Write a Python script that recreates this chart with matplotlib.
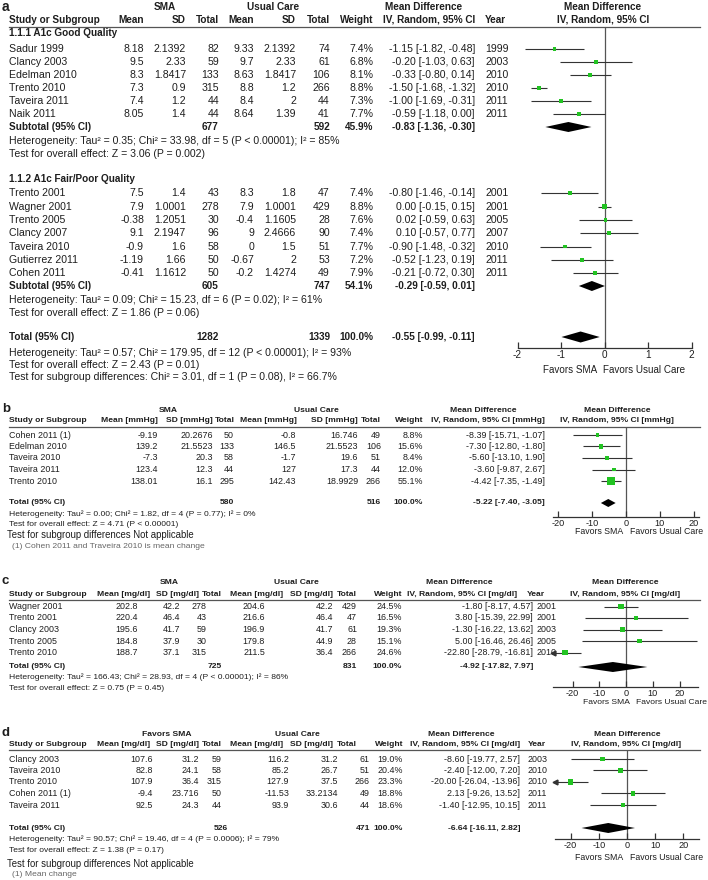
import numpy as np
import matplotlib
matplotlib.use('Agg')
import matplotlib.pyplot as plt

plt.rcParams['font.family'] = ['Liberation Sans', 'DejaVu Sans']

# ---------------- panel a : HbA1c ----------------
a1_study = ['Sadur 1999', 'Clancy 2003', 'Edelman 2010', 'Trento 2010', 'Taveira 2011', 'Naik 2011']
a1_sma_mean = [8.18, 9.5, 8.3, 7.3, 7.4, 8.05]
a1_sma_sd = [2.1392, 2.33, 1.8417, 0.9, 1.2, 1.4]
a1_sma_n = [82, 59, 133, 315, 44, 44]
a1_uc_mean = [9.33, 9.7, 8.63, 8.8, 8.4, 8.64]
a1_uc_sd = [2.1392, 2.33, 1.8417, 1.2, 2, 1.39]
a1_uc_n = [74, 61, 106, 266, 44, 41]
a1_weight = [7.4, 6.8, 8.1, 8.8, 7.3, 7.7]
a1_md = [-1.15, -0.20, -0.33, -1.50, -1.00, -0.59]
a1_lo = [-1.82, -1.03, -0.80, -1.68, -1.69, -1.18]
a1_hi = [-0.48, 0.63, 0.14, -1.32, -0.31, 0.00]
a1_year = [1999, 2003, 2010, 2010, 2011, 2011]
a1_sub = [677, 592, 45.9, -0.83, -1.36, -0.30]

a2_study = ['Trento 2001', 'Wagner 2001', 'Trento 2005', 'Clancy 2007', 'Taveira 2010', 'Gutierrez 2011', 'Cohen 2011']
a2_sma_mean = [7.5, 7.9, -0.38, 9.1, -0.9, -1.19, -0.41]
a2_sma_sd = [1.4, 1.0001, 1.2051, 2.1947, 1.6, 1.66, 1.1612]
a2_sma_n = [43, 278, 30, 96, 58, 50, 50]
a2_uc_mean = [8.3, 7.9, -0.4, 9, 0, -0.67, -0.2]
a2_uc_sd = [1.8, 1.0001, 1.1605, 2.4666, 1.5, 2, 1.4274]
a2_uc_n = [47, 429, 28, 90, 51, 53, 49]
a2_weight = [7.4, 8.8, 7.6, 7.4, 7.7, 7.2, 7.9]
a2_md = [-0.80, 0.00, 0.02, 0.10, -0.90, -0.52, -0.21]
a2_lo = [-1.46, -0.15, -0.59, -0.57, -1.48, -1.23, -0.72]
a2_hi = [-0.14, 0.15, 0.63, 0.77, -0.32, 0.19, 0.30]
a2_year = [2001, 2001, 2005, 2007, 2010, 2011, 2011]
a2_sub = [605, 747, 54.1, -0.29, -0.59, 0.01]
a_total = [1282, 1339, 100.0, -0.55, -0.99, -0.11]

a1_notes = ['Heterogeneity: Tau\u00b2 = 0.35; Chi\u00b2 = 33.98, df = 5 (P < 0.00001); I\u00b2 = 85%',
            'Test for overall effect: Z = 3.06 (P = 0.002)']
a2_notes = ['Heterogeneity: Tau\u00b2 = 0.09; Chi\u00b2 = 15.23, df = 6 (P = 0.02); I\u00b2 = 61%',
            'Test for overall effect: Z = 1.86 (P = 0.06)']
a_notes = ['Heterogeneity: Tau\u00b2 = 0.57; Chi\u00b2 = 179.95, df = 12 (P < 0.00001); I\u00b2 = 93%',
           'Test for overall effect: Z = 2.43 (P = 0.01)',
           'Test for subgroup differences: Chi\u00b2 = 3.01, df = 1 (P = 0.08), I\u00b2 = 66.7%']

# ---------------- panel b : blood pressure ----------------
b_study = ['Cohen 2011 (1)', 'Edelman 2010', 'Taveira 2010', 'Taveira 2011', 'Trento 2010']
b_sma_mean = [-9.19, 139.2, -7.3, 123.4, 138.01]
b_sma_sd = [20.2676, 21.5523, 20.3, 12.3, 16.1]
b_sma_n = [50, 133, 58, 44, 295]
b_uc_mean = [-0.8, 146.5, -1.7, 127, 142.43]
b_uc_sd = [16.746, 21.5523, 19.6, 17.3, 18.9929]
b_uc_n = [49, 106, 51, 44, 266]
b_weight = [8.8, 15.6, 8.4, 12.0, 55.1]
b_md = [-8.39, -7.30, -5.60, -3.60, -4.42]
b_lo = [-15.71, -12.80, -13.10, -9.87, -7.35]
b_hi = [-1.07, -1.80, 1.90, 2.67, -1.49]
b_total = [580, 516, 100.0, -5.22, -7.40, -3.05]
b_notes = ['Heterogeneity: Tau\u00b2 = 0.00; Chi\u00b2 = 1.82, df = 4 (P = 0.77); I\u00b2 = 0%',
           'Test for overall effect: Z = 4.71 (P < 0.00001)']
b_foot = '(1) Cohen 2011 and Traveira 2010 is mean change'

# ---------------- panel c : cholesterol ----------------
c_study = ['Wagner 2001', 'Trento 2001', 'Clancy 2003', 'Trento 2005', 'Trento 2010']
c_sma_mean = [202.8, 220.4, 195.6, 184.8, 188.7]
c_sma_sd = [42.2, 46.4, 41.7, 37.9, 37.1]
c_sma_n = [278, 43, 59, 30, 315]
c_uc_mean = [204.6, 216.6, 196.9, 179.8, 211.5]
c_uc_sd = [42.2, 46.4, 41.7, 44.9, 36.4]
c_uc_n = [429, 47, 61, 28, 266]
c_weight = [24.5, 16.5, 19.3, 15.1, 24.6]
c_md = [-1.80, 3.80, -1.30, 5.00, -22.80]
c_lo = [-8.17, -15.39, -16.22, -16.46, -28.79]
c_hi = [4.57, 22.99, 13.62, 26.46, -16.81]
c_year = [2001, 2001, 2003, 2005, 2010]
c_total = [725, 831, 100.0, -4.92, -17.82, 7.97]
c_notes = ['Heterogeneity: Tau\u00b2 = 166.43; Chi\u00b2 = 28.93, df = 4 (P < 0.00001); I\u00b2 = 86%',
           'Test for overall effect: Z = 0.75 (P = 0.45)']

# ---------------- panel d : LDL ----------------
d_study = ['Clancy 2003', 'Taveira 2010', 'Trento 2010', 'Cohen 2011 (1)', 'Taveira 2011']
d_sma_mean = [107.6, 82.8, 107.9, -9.4, 92.5]
d_sma_sd = [31.2, 24.1, 36.4, 23.716, 24.3]
d_sma_n = [59, 58, 315, 50, 44]
d_uc_mean = [116.2, 85.2, 127.9, -11.53, 93.9]
d_uc_sd = [31.2, 26.7, 37.5, 33.2134, 30.6]
d_uc_n = [61, 51, 266, 49, 44]
d_weight = [19.0, 20.4, 23.3, 18.8, 18.6]
d_md = [-8.60, -2.40, -20.00, 2.13, -1.40]
d_lo = [-19.77, -12.00, -26.04, -9.26, -12.95]
d_hi = [2.57, 7.20, -13.96, 13.52, 10.15]
d_year = [2003, 2010, 2010, 2011, 2011]
d_total = [526, 471, 100.0, -6.64, -16.11, 2.82]
d_notes = ['Heterogeneity: Tau\u00b2 = 90.57; Chi\u00b2 = 19.46, df = 4 (P = 0.0006); I\u00b2 = 79%',
           'Test for overall effect: Z = 1.38 (P = 0.17)']
d_foot = '(1) Mean change'

# ---------------- drawing helpers ----------------
W, H = 708, 880
INK = '#1e1e1e'
GREEN = '#22c322'
LINE = '#333333'

fig = plt.figure(figsize=(W / 100, H / 100), dpi=100)
base = fig.add_axes([0, 0, 1, 1])
base.set_xlim(0, W)
base.set_ylim(H, 0)
base.axis('off')


def put(x, y, s, size, ha='left', bold=False, color=INK):
    base.text(x, y, s, fontsize=size, ha=ha, va='center', color=color,
              fontweight='bold' if bold else 'normal')


def g(v):
    return f'{v:g}'


def ci(m, l, h):
    return f'{m:.2f} [{l:.2f}, {h:.2f}]'


def study_rows(ys, study, sm, ss, sn, um, us, un, w, md, lo, hi, year, xr, year_x, size):
    for i, y in enumerate(ys):
        put(9, y, study[i], size)
        vals = [g(sm[i]), g(ss[i]), str(sn[i]), g(um[i]), g(us[i]), str(un[i]),
                f'{w[i]:.1f}%', ci(md[i], lo[i], hi[i])]
        for x, v in zip(xr, vals):
            put(x, y, v, size, ha='right')
        if year is not None:
            put(year_x, y, str(year[i]), size)


def total_row(y, label, tot, xt, size):
    put(9, y, label, size, bold=True)
    vals = [str(tot[0]), str(tot[1]), f'{tot[2]:.1f}%', ci(tot[3], tot[4], tot[5])]
    for x, v in zip(xt, vals):
        put(x, y, v, size, ha='right', bold=True)


def forest_axes(xlim, px0, px1, y_top, y_axis, ticks, size):
    fa = fig.add_axes([px0 / W, 1 - y_axis / H, (px1 - px0) / W, (y_axis - y_top) / H])
    fa.set_xlim(*xlim)
    fa.set_ylim(y_axis, y_top)
    fa.patch.set_alpha(0)
    for s in ['top', 'right', 'left']:
        fa.spines[s].set_visible(False)
    fa.spines['bottom'].set_linewidth(0.9)
    fa.spines['bottom'].set_color(LINE)
    fa.set_yticks([])
    fa.set_xticks(ticks)
    fa.set_xticklabels([f'{t:g}' for t in ticks])
    fa.tick_params(axis='x', direction='in', length=4, width=0.9, colors=LINE,
                   labelsize=size, labelcolor=INK, pad=1.5)
    fa.axvline(0, color='#555555', lw=0.9, zorder=1)
    return fa


def forest(fa, ys, md, lo, hi, w, k):
    xmin = fa.get_xlim()[0]
    lo = np.array(lo)
    fa.hlines(ys, np.maximum(lo, xmin), hi, color=LINE, lw=0.8, zorder=2)
    for y, l in zip(ys, lo):
        if l < xmin:
            fa.plot(xmin, y, marker='<', ms=3.5, color=LINE, clip_on=False, zorder=2)
    side = k * np.sqrt(np.array(w)) * 0.72
    fa.scatter(md, ys, marker='s', s=side ** 2, color=GREEN, linewidths=0, zorder=3)


def diamond(fa, y, tot, h):
    m, l, r = tot[3], tot[4], tot[5]
    fa.fill([l, m, r, m], [y, y - h, y, y + h], color='black', lw=0, zorder=3)


def favors(y, x_left_end, x_right_start, size=6.3):
    put(x_left_end, y, 'Favors SMA', size, ha='right')
    put(x_right_start, y, 'Favors Usual Care', size)


# ================= panel a =================
fa_ = 7.6    # row font
fh_ = 7.2    # header font
fn_ = 7.55   # notes font
put(2, 7, 'a', 10, bold=True)
put(165, 7, 'SMA', fh_, ha='center', bold=True)
put(273, 7, 'Usual Care', fh_, ha='center', bold=True)
put(424, 7, 'Mean Difference', fh_, ha='center', bold=True)
put(603, 7, 'Mean Difference', fh_, ha='center', bold=True)
put(9, 20, 'Study or Subgroup', fh_, bold=True)
for x, s in zip([144, 186, 219, 254, 296, 330, 373, 475],
                ['Mean', 'SD', 'Total', 'Mean', 'SD', 'Total', 'Weight', 'IV, Random, 95% CI']):
    put(x, 20, s, fh_, ha='right', bold=True)
put(485, 20, 'Year', fh_, bold=True)
put(603, 20, 'IV, Random, 95% CI', fh_, ha='center', bold=True)
base.plot([9, 700], [27, 27], color='#555555', lw=0.9)

a_xr = [144, 186, 219, 254, 296, 330, 373, 475]
a_xt = [219, 330, 373, 475]
a1_y = [49, 62, 75, 88, 101, 114]
a2_y = [193, 206.5, 220, 233, 246.5, 260, 273]

put(9, 33, '1.1.1 A1c Good Quality', fh_, bold=True)
study_rows(a1_y, a1_study, a1_sma_mean, a1_sma_sd, a1_sma_n, a1_uc_mean, a1_uc_sd, a1_uc_n,
           a1_weight, a1_md, a1_lo, a1_hi, a1_year, a_xr, 485, fa_)
total_row(127, 'Subtotal (95% CI)', a1_sub, a_xt, fh_)
for y, s in zip([141, 154], a1_notes):
    put(9, y, s, fn_)

put(9, 179, '1.1.2 A1c Fair/Poor Quality', fh_, bold=True)
study_rows(a2_y, a2_study, a2_sma_mean, a2_sma_sd, a2_sma_n, a2_uc_mean, a2_uc_sd, a2_uc_n,
           a2_weight, a2_md, a2_lo, a2_hi, a2_year, a_xr, 485, fa_)
total_row(286, 'Subtotal (95% CI)', a2_sub, a_xt, fh_)
for y, s in zip([300, 313], a2_notes):
    put(9, y, s, fn_)

total_row(337, 'Total (95% CI)', a_total, a_xt, fh_)
for y, s in zip([353, 365, 377], a_notes):
    put(9, y, s, fn_)

axa = forest_axes((-2, 2), 517.5, 691.5, 27, 348, [-2, -1, 0, 1, 2], 7.2)
forest(axa, a1_y, a1_md, a1_lo, a1_hi, a1_weight, 1.35)
forest(axa, a2_y, a2_md, a2_lo, a2_hi, a2_weight, 1.35)
diamond(axa, 127, a1_sub, 5)
diamond(axa, 286, a2_sub, 5)
diamond(axa, 337, a_total, 5.5)
favors(370, 597, 603, 7.1)

# ================= panel b =================
fr = 6.4   # row font
fh = 6.1   # header font
fn = 6.1   # notes font
put(2, 409, 'b', 9.5, bold=True)
put(168, 411, 'SMA', fh, ha='center', bold=True)
put(316, 411, 'Usual Care', fh, ha='center', bold=True)
put(483, 411, 'Mean Difference', fh, ha='center', bold=True)
put(617, 411, 'Mean Difference', fh, ha='center', bold=True)
put(9, 421, 'Study or Subgroup', fh, bold=True)
for x, s in zip([158, 213, 235, 297, 358, 381, 423, 545],
                ['Mean [mmHg]', 'SD [mmHg]', 'Total', 'Mean [mmHg]', 'SD [mmHg]', 'Total', 'Weight',
                 'IV, Random, 95% CI [mmHg]']):
    put(x, 421, s, fh, ha='right', bold=True)
put(617, 421, 'IV, Random, 95% CI [mmHg]', fh, ha='center', bold=True)
base.plot([9, 700], [427, 427], color='#555555', lw=0.9)

b_y = [435, 446.5, 458, 469.5, 481]
study_rows(b_y, b_study, b_sma_mean, b_sma_sd, b_sma_n, b_uc_mean, b_uc_sd, b_uc_n,
           b_weight, b_md, b_lo, b_hi, None, [158, 213, 234, 296, 358, 381, 423, 545], 0, fr)
total_row(503, 'Total (95% CI)', b_total, [234, 381, 423, 545], fh)
for y, s in zip([514, 525], b_notes):
    put(9, y, s, fn)
put(7, 535, 'Test for subgroup differences Not applicable', 6.9)
put(12, 546, b_foot, fn, color='#666666')

axb = forest_axes((-21.5, 21.5), 553, 699, 427, 517, [-20, -10, 0, 10, 20], 6.6)
forest(axb, b_y, b_md, b_lo, b_hi, b_weight, 1.1)
diamond(axb, 503, b_total, 4)
favors(532, 623, 630)

# ================= panel c =================
put(2, 581, 'c', 9.5, bold=True)
put(169, 583, 'SMA', fh, ha='center', bold=True)
put(296, 583, 'Usual Care', fh, ha='center', bold=True)
put(459, 583, 'Mean Difference', fh, ha='center', bold=True)
put(625, 583, 'Mean Difference', fh, ha='center', bold=True)
put(9, 595, 'Study or Subgroup', fh, bold=True)
for x, s in zip([150, 199, 222, 283, 333, 357, 402],
                ['Mean [mg/dl]', 'SD [mg/dl]', 'Total', 'Mean [mg/dl]', 'SD [mg/dl]', 'Total', 'Weight']):
    put(x, 595, s, fh, ha='right', bold=True)
put(462, 595, 'IV, Random, 95% CI [mg/dl]', fh, ha='center', bold=True)
put(527, 595, 'Year', fh, bold=True)
put(625, 595, 'IV, Random, 95% CI [mg/dl]', fh, ha='center', bold=True)
base.plot([9, 700], [600, 600], color='#555555', lw=0.9)

c_y = [606.5, 618, 629.5, 641, 652.5]
study_rows(c_y, c_study, c_sma_mean, c_sma_sd, c_sma_n, c_uc_mean, c_uc_sd, c_uc_n,
           c_weight, c_md, c_lo, c_hi, c_year, [138, 180, 207, 265, 333, 357, 402, 533], 537, fr)
total_row(667, 'Total (95% CI)', c_total, [222, 357, 402, 533], fh)
for y, s in zip([677, 688], c_notes):
    put(9, y, s, fn)

axc = forest_axes((-27.3, 26.9), 553, 698, 600, 687, [-20, -10, 0, 10, 20], 6.6)
forest(axc, c_y, c_md, c_lo, c_hi, c_weight, 1.1)
diamond(axc, 667, c_total, 5)
favors(702, 630, 636, 6.1)

# ================= panel d =================
put(2, 733, 'd', 9.5, bold=True)
put(167, 735, 'Favors SMA', fh, ha='center', bold=True)
put(297, 735, 'Usual Care', fh, ha='center', bold=True)
put(461, 735, 'Mean Difference', fh, ha='center', bold=True)
put(627, 735, 'Mean Difference', fh, ha='center', bold=True)
put(9, 745, 'Study or Subgroup', fh, bold=True)
for x, s in zip([150, 199, 222, 283, 333, 357, 403, 520],
                ['Mean [mg/dl]', 'SD [mg/dl]', 'Total', 'Mean [mg/dl]', 'SD [mg/dl]', 'Total', 'Weight',
                 'IV, Random, 95% CI [mg/dl]']):
    put(x, 745, s, fh, ha='right', bold=True)
put(528, 745, 'Year', fh, bold=True)
put(626, 745, 'IV, Random, 95% CI [mg/dl]', fh, ha='center', bold=True)
base.plot([9, 700], [750, 750], color='#555555', lw=0.9)

d_y = [759, 770.5, 782, 793.5, 805]
study_rows(d_y, d_study, d_sma_mean, d_sma_sd, d_sma_n, d_uc_mean, d_uc_sd, d_uc_n,
           d_weight, d_md, d_lo, d_hi, d_year, [153, 199, 222, 289, 338, 370, 403, 520], 528, fr)
total_row(828, 'Total (95% CI)', d_total, [228, 370, 403, 520], fh)
for y, s in zip([839, 851], d_notes):
    put(9, y, s, fn)
put(7, 864, 'Test for subgroup differences Not applicable', 6.9)
put(12, 874, d_foot, fn, color='#666666')

axd = forest_axes((-25.5, 25.5), 555, 699, 750, 839, [-20, -10, 0, 10, 20], 6.6)
forest(axd, d_y, d_md, d_lo, d_hi, d_weight, 1.1)
diamond(axd, 828, d_total, 5)
favors(857, 623, 630)

fig.savefig('out.png', dpi=100)
